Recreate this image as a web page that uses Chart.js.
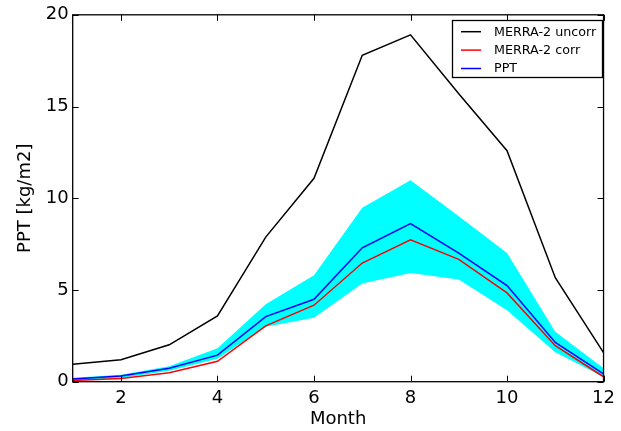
<!DOCTYPE html>
<html>
<head>
<meta charset="utf-8">
<script src="https://cdn.jsdelivr.net/npm/chart.js@4"></script>
<style>
  html, body { margin: 0; padding: 0; background: #fff; }
  #wrap { width: 621px; height: 431px; position: relative; }
</style>
</head>
<body>
<div id="wrap"><canvas id="c" width="621" height="431"></canvas></div>
<script>
const months = [1, 2, 3, 4, 5, 6, 7, 8, 9, 10, 11, 12];
const merraUncorr = [0.95, 1.20, 2.01, 3.59, 7.88, 11.09, 17.79, 18.91, 15.7, 12.59, 5.67, 1.58];
const merraCorr   = [0.07, 0.18, 0.49, 1.11, 3.04, 4.17, 6.47, 7.74, 6.67, 4.84, 1.96, 0.27];
const ppt         = [0.15, 0.31, 0.73, 1.45, 3.55, 4.49, 7.30, 8.62, 7.01, 5.24, 2.14, 0.42];
const pptUpper    = [0.22, 0.38, 0.84, 1.82, 4.22, 5.80, 9.48, 10.98, 9.02, 7.01, 2.72, 0.73];
const pptLower    = [0.05, 0.20, 0.60, 1.25, 2.99, 3.48, 5.35, 5.92, 5.57, 3.90, 1.60, 0.25];
const xTicks = [2, 4, 6, 8, 10, 12];
const yTicks = [0, 5, 10, 15, 20];
const legendLabels = ['MERRA-2 uncorr', 'MERRA-2 corr', 'PPT'];
const legendColors = ['#000000', '#ff0000', '#0000ff'];

const pts = arr => months.map((m, i) => ({x: m, y: arr[i]}));
const FONT = 'DejaVu Sans';

const framePlugin = {
  id: 'frame',
  afterDraw(chart) {
    const ctx = chart.ctx;
    const a = chart.chartArea;
    const xs = chart.scales.x, ys = chart.scales.y;
    ctx.save();
    ctx.strokeStyle = '#000';
    ctx.lineWidth = 1.3;
    ctx.strokeRect(a.left, a.top, a.right - a.left, a.bottom - a.top);
    const tl = 6;
    ctx.lineWidth = 1;
    ctx.beginPath();
    xTicks.forEach(v => {
      const px = Math.round(xs.getPixelForValue(v)) + 0.5;
      ctx.moveTo(px, a.bottom); ctx.lineTo(px, a.bottom - tl);
      ctx.moveTo(px, a.top); ctx.lineTo(px, a.top + tl);
    });
    yTicks.forEach(v => {
      const py = Math.round(ys.getPixelForValue(v)) + 0.5;
      ctx.moveTo(a.left, py); ctx.lineTo(a.left + tl, py);
      ctx.moveTo(a.right, py); ctx.lineTo(a.right - tl, py);
    });
    ctx.stroke();

    // legend box
    const lx = 452.5, ly = 20.5, lw = 150, lh = 57;
    ctx.fillStyle = '#fff';
    ctx.fillRect(lx, ly, lw, lh);
    ctx.lineWidth = 1.3;
    ctx.strokeStyle = '#000';
    ctx.strokeRect(lx, ly, lw, lh);
    ctx.font = '12.7px "' + FONT + '"';
    ctx.textBaseline = 'middle';
    ctx.textAlign = 'left';
    legendLabels.forEach((lab, i) => {
      const y = 31.7 + i * 18.4;
      ctx.strokeStyle = legendColors[i];
      ctx.lineWidth = 1.5;
      ctx.beginPath();
      ctx.moveTo(461, y); ctx.lineTo(481, y);
      ctx.stroke();
      ctx.fillStyle = '#000';
      ctx.fillText(lab, 494, y + 0.5);
    });
    ctx.restore();
  }
};

new Chart(document.getElementById('c'), {
  type: 'line',
  data: {
    datasets: [
      { label: 'lower', data: pts(pptLower), borderWidth: 0, pointRadius: 0, fill: false, borderColor: 'rgba(0,0,0,0)', tension: 0, order: 10 },
      { label: 'upper', data: pts(pptUpper), borderWidth: 0, pointRadius: 0, fill: '-1', backgroundColor: '#00ffff', borderColor: 'rgba(0,0,0,0)', tension: 0, order: 9 },
      { label: legendLabels[0], data: pts(merraUncorr), borderColor: legendColors[0], borderWidth: 1.5, pointRadius: 0, fill: false, tension: 0, order: 3 },
      { label: legendLabels[1], data: pts(merraCorr), borderColor: legendColors[1], borderWidth: 1.5, pointRadius: 0, fill: false, tension: 0, order: 2 },
      { label: legendLabels[2], data: pts(ppt), borderColor: legendColors[2], borderWidth: 1.5, pointRadius: 0, fill: false, tension: 0, order: 1 }
    ]
  },
  options: {
    responsive: false,
    animation: false,
    layout: { padding: { top: 13.7, right: 12.7, left: 0, bottom: 0 } },
    plugins: { legend: { display: false }, tooltip: { enabled: false }, filler: { drawTime: 'beforeDatasetsDraw' } },
    scales: {
      x: {
        type: 'linear', min: 1, max: 12,
        afterBuildTicks: s => { s.ticks = xTicks.map(v => ({value: v})); },
        afterFit: s => { s.height = 49.3; },
        grid: { display: false, drawTicks: false },
        border: { display: false },
        ticks: { color: '#000', font: { family: FONT, size: 18 }, padding: 6, maxRotation: 0 },
        title: { display: true, text: 'Month', color: '#000', font: { family: FONT, size: 18 }, padding: { top: 0, bottom: 1 } }
      },
      y: {
        type: 'linear', min: 0, max: 20,
        afterBuildTicks: s => { s.ticks = yTicks.map(v => ({value: v})); },
        afterFit: s => { s.width = 72.7; },
        grid: { display: false, drawTicks: false },
        border: { display: false },
        ticks: { color: '#000', font: { family: FONT, size: 18 }, padding: 4 },
        title: { display: true, text: 'PPT [kg/m2]', color: '#000', font: { family: FONT, size: 18 }, padding: { top: 15, bottom: 0 } }
      }
    }
  },
  plugins: [framePlugin]
});
</script>
</body>
</html>
